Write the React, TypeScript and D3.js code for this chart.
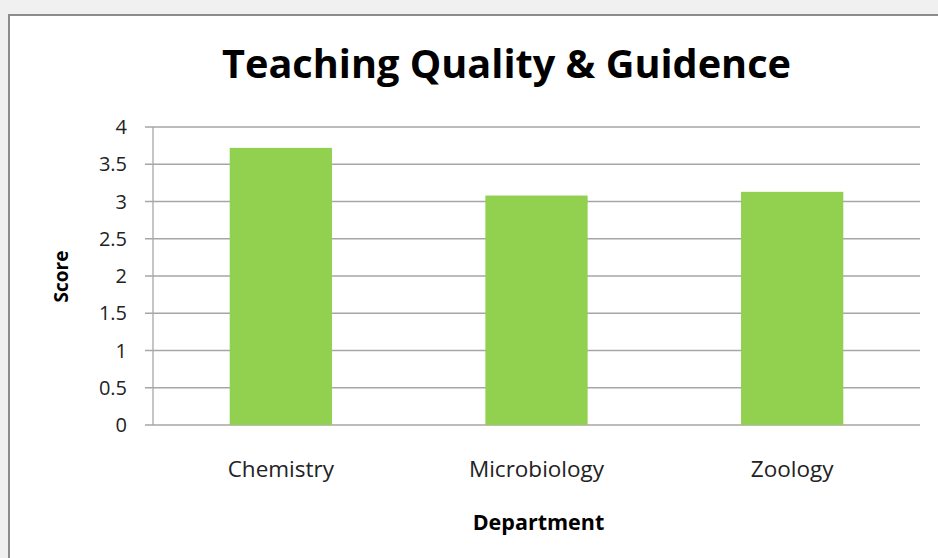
import React from "react";
import * as d3 from "d3";

const categories = ["Chemistry", "Microbiology", "Zoology"];
const scores = [3.72, 3.08, 3.13];
const yTicks = [0, 0.5, 1, 1.5, 2, 2.5, 3, 3.5, 4];
const yTickLabels = ["0", "0.5", "1", "1.5", "2", "2.5", "3", "3.5", "4"];

const W = 938;
const H = 558;
const left = 153;
const right = 920;
const top = 127;
const bottom = 425;
const font = "'Open Sans', Lato, sans-serif";

export default function App() {
  const x = d3.scaleBand<string>().domain(categories).range([left, right]).paddingInner(0.6).paddingOuter(0.3);
  const y = d3.scaleLinear().domain([0, 4]).range([bottom, top]);
  return (
    <svg width={W} height={H} style={{ position: "absolute", left: 0, top: 0, display: "block" }}>
      <rect x={0} y={0} width={W} height={H} fill="#f0f0f0" />
      <rect x={9} y={15} width={W + 10} height={H} fill="#ffffff" stroke="#8c8c8c" strokeWidth={2} />
      <text x={506.5} y={78} textAnchor="middle" fontFamily={font} fontWeight="bold" fontSize={40} fill="#000" textLength={569} lengthAdjust="spacingAndGlyphs">
        Teaching Quality &amp; Guidence
      </text>
      {yTicks.map((t, i) => (
        <g key={t}>
          <line x1={left - 8} x2={right} y1={y(t)} y2={y(t)} stroke="#a6a6a6" strokeWidth={1.3} />
          <text x={127} y={y(t)} dy="0.36em" textAnchor="end" fontFamily={font} fontSize={20} fill="#222">
            {yTickLabels[i]}
          </text>
        </g>
      ))}
      <line x1={left} x2={left} y1={top} y2={bottom} stroke="#a6a6a6" strokeWidth={1.3} />
      {categories.map((c, i) => (
        <rect key={c} x={x(c)} y={y(scores[i])} width={x.bandwidth()} height={y(0) - y(scores[i])} fill="#92d050" />
      ))}
      {categories.map((c) => (
        <text key={c} x={(x(c) as number) + x.bandwidth() / 2} y={477} textAnchor="middle" fontFamily={font} fontSize={22.5} fill="#222">
          {c}
        </text>
      ))}
      <text x={538.5} y={530} textAnchor="middle" fontFamily={font} fontWeight="bold" fontSize={21.5} fill="#000">
        Department
      </text>
      <text transform="translate(68,276.5) rotate(-90)" textAnchor="middle" fontFamily={font} fontWeight="bold" fontSize={19} fill="#000">
        Score
      </text>
    </svg>
  );
}
